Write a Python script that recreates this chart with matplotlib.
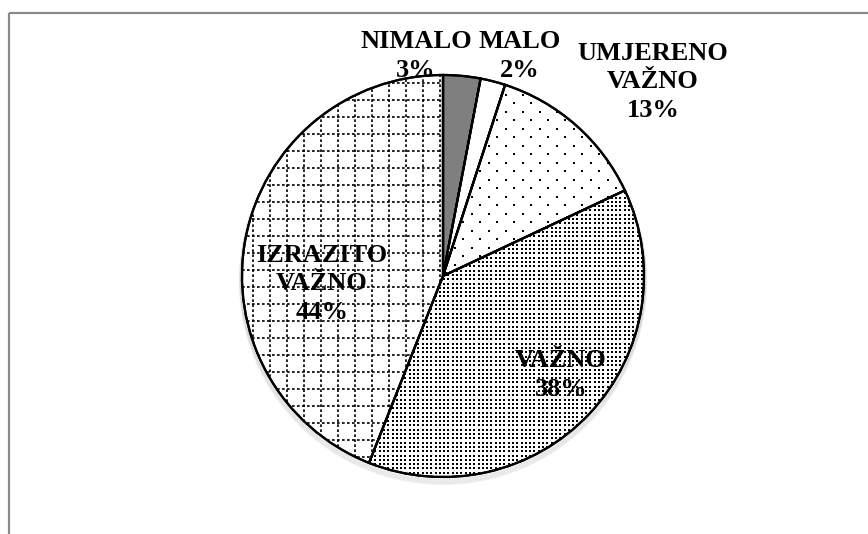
import matplotlib
matplotlib.use("Agg")
import matplotlib.pyplot as plt
from matplotlib.patches import Circle, Wedge
import numpy as np

# udio odgovora po kategoriji (%)
kategorije = ["NIMALO", "MALO", "UMJERENO\nVAŽNO", "VAŽNO", "IZRAZITO\nVAŽNO"]
udjeli = [3, 2, 13, 38, 44]

W, H = 868, 534
fig = plt.figure(figsize=(W / 100, H / 100), dpi=100)
ax = fig.add_axes([0, 0, 1, 1])

cx, cy, r = 443, 258, 201

# mekana sjena ispod kruga
for k in range(5):
    ax.add_patch(Circle((cx, cy - 2 - k * 0.7), r + 0.3 + k * 0.5,
                        facecolor="none", edgecolor="black", lw=1.2, alpha=0.06, zorder=1))

boje = ["#7f7f7f", "white", "white", "white", "white"]
wedges, _ = ax.pie(udjeli, center=(cx, cy), radius=r, startangle=90, counterclock=False,
                   colors=boje, wedgeprops=dict(edgecolor="black", linewidth=1.6),
                   frame=True)
ax.set_xlim(0, W)
ax.set_ylim(0, H)
ax.set_aspect("equal")
ax.axis("off")
for w in wedges:
    w.set_zorder(2)

def isjeci(w, art):
    art.set_clip_path(w)
    art.set_zorder(3)

# rijetke točkice (UMJERENO VAŽNO)
w = wedges[2]
ys = np.arange(cy - r, cy + r, 8.5)
for i, yy in enumerate(ys):
    off = 0 if i % 2 == 0 else 8.5
    xs = np.arange(cx - r + off, cx + r, 17)
    sz = 2.6 if i % 2 else 1.2
    sc = ax.scatter(xs, np.full_like(xs, yy), s=sz, c="black", marker="s", linewidths=0)
    isjeci(w, sc)

# guste točkice (VAŽNO)
w = wedges[3]
gx, gy = np.meshgrid(np.arange(cx - r, cx + r, 4.3), np.arange(cy - r, cy + r, 4.3))
sc = ax.scatter(gx.ravel(), gy.ravel(), s=3.4, c="black", marker="s", linewidths=0)
isjeci(w, sc)

# isprekidana mreža (IZRAZITO VAŽNO)
w = wedges[4]
crtice = (0, (1.6, 1.4))
for xx in np.arange(cx - 3, cx - r - 17, -17):
    ln, = ax.plot([xx, xx], [cy - r, cy + r], color="black", lw=1.2, ls=crtice)
    isjeci(w, ln)
for yy in np.arange(cy + r - 8, cy - r, -17):
    ln, = ax.plot([cx - r, cx + r], [yy, yy], color="black", lw=1.2, ls=crtice)
    isjeci(w, ln)

# obrub se crta iznova iznad uzoraka
for w in wedges:
    ax.add_patch(Wedge((cx, cy), r, w.theta1, w.theta2, facecolor="none",
                       edgecolor="black", linewidth=1.6, zorder=4))

# oznake
tekst = dict(family="Liberation Serif", fontweight="bold", fontsize=19,
             ha="center", va="center", linespacing=1.3, zorder=5)
pozicije = [(416, H - 56), (520, H - 56), (653, H - 82), (561, H - 375), (322, H - 284)]
for naziv, p, (tx, ty) in zip(kategorije, udjeli, pozicije):
    ax.text(tx, ty, f"{naziv}\n{p}%", **tekst)

# okvir grafikona (vidljivi gornji i lijevi rub)
ax.plot([9, W], [H - 13, H - 13], color="#8a8a8a", lw=1.6, zorder=6, solid_capstyle="butt")
ax.plot([9, 9], [0, H - 13], color="#8a8a8a", lw=1.6, zorder=6, solid_capstyle="butt")

fig.savefig("out.png", dpi=100)
